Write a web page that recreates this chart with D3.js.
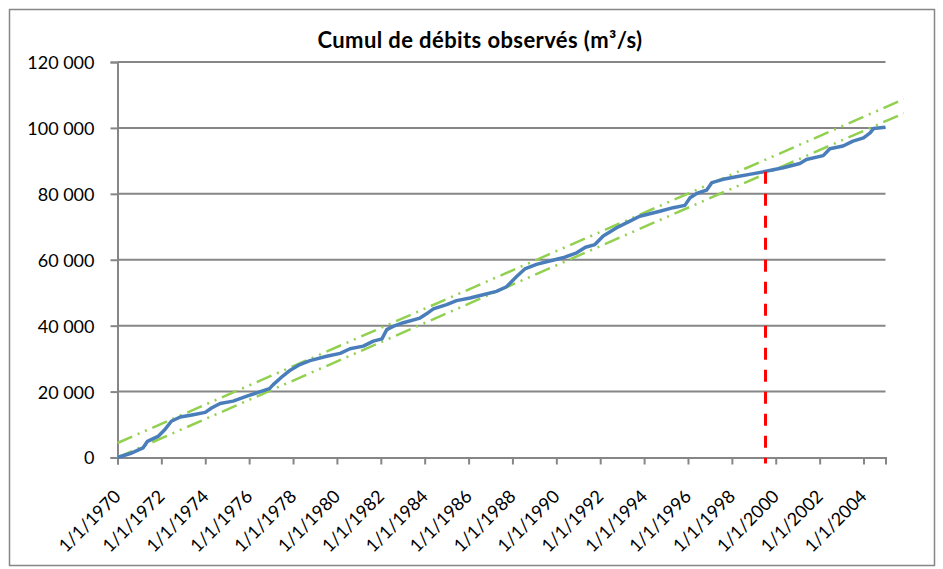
<!DOCTYPE html>
<html>
<head>
<meta charset="utf-8">
<script src="https://cdn.jsdelivr.net/npm/d3@7"></script>
<style>
  body { margin: 0; background: #fff; }
  text { font-family: Lato, "Noto Sans", sans-serif; fill: #000; }
</style>
</head>
<body>
<div id="chart"></div>
<script>
const dates = [
  '1970-01-01','1970-08-01','1971-03-01','1971-05-15','1971-11-15','1972-03-01','1972-06-15','1972-11-10',
  '1973-06-15','1974-01-01','1974-04-15','1974-09-05','1975-04-10','1975-11-25','1976-05-05','1976-12-05',
  '1977-02-05','1977-07-20','1977-11-15','1978-04-25','1978-10-10','1979-07-15','1980-02-25','1980-08-05',
  '1981-03-15','1981-08-30','1982-01-20','1982-04-10','1982-07-25','1983-01-10','1983-10-15','1984-02-01',
  '1984-05-25','1985-01-01','1985-06-15','1986-01-25','1986-09-01','1987-04-10','1987-09-25','1988-03-15',
  '1988-07-25','1989-02-05','1989-09-10','1990-04-20','1990-12-05','1991-05-01','1991-10-05','1992-02-20',
  '1992-10-01','1993-05-10','1993-10-20','1994-09-20','1995-05-01','1995-11-10','1996-02-05','1996-05-25',
  '1996-11-05','1997-02-01','1997-08-10','1998-03-15','1998-10-20','1999-08-10','2000-05-05','2001-02-05',
  '2001-05-25','2002-03-01','2002-06-20','2003-01-25','2003-07-10','2004-01-01','2004-04-20','2004-06-15',
  '2004-12-31'
]
const cumul = [
  0, 1200, 2900, 4900, 6500, 8500, 11000, 12300,
  13000, 13700, 15000, 16400, 17100, 18600, 19600, 20900,
  22100, 24800, 26500, 28200, 29400, 30700, 31600, 33000,
  33800, 35300, 36000, 38800, 39800, 40900, 42300, 43600,
  45100, 46400, 47600, 48400, 49400, 50400, 51800, 55000,
  57200, 58600, 59600, 60600, 62100, 63800, 64600, 67200,
  69700, 71700, 73200, 74700, 75800, 76500, 78800, 80100,
  81100, 83400, 84400, 85200, 85900, 86900, 87900, 89200,
  90400, 91600, 93700, 94500, 96000, 97000, 98500, 99800,
  100200
]

// the two parallel envelope lines (green dash-dot-dot)
const trendDates = ['1970-01-01', '2005-11-01']
const upperTrend = [4400, 108700]
const lowerTrend = [0, 104450]

// red marker at the break
const breakDate = '1999-07-15'
const breakValue = 86700

const xDomain = ['1970-01-01', '2005-01-01']
const yTicks = [0, 20000, 40000, 60000, 80000, 100000, 120000]
const title = 'Cumul de débits observés (m³/s)'

const W = 943, H = 569
const m = { top: 62, right: 57.5, bottom: 111.5, left: 117.5 }
const parse = d3.timeParse('%Y-%m-%d')

const svg = d3.select('#chart').append('svg')
  .attr('width', W).attr('height', H)

// chart frame
svg.append('rect')
  .attr('x', 9.5).attr('y', 9.5)
  .attr('width', 925).attr('height', 556)
  .attr('fill', 'none').attr('stroke', '#868686').attr('stroke-width', 1.5)

const x = d3.scaleTime()
  .domain(xDomain.map(parse))
  .range([m.left, W - m.right])
const y = d3.scaleLinear()
  .domain([0, 120000])
  .range([H - m.bottom, m.top])

const fr = d3.formatLocale({ decimal: ',', thousands: '\u00a0', grouping: [3], currency: ['', ''] })
const fmtY = fr.format(',')
const fmtX = d3.timeFormat('%-m/%-d/%Y')

// gridlines
svg.append('g')
  .selectAll('line')
  .data(yTicks.slice(1))
  .enter().append('line')
  .attr('x1', x.range()[0]).attr('x2', x.range()[1])
  .attr('y1', d => y(d)).attr('y2', d => y(d))
  .attr('stroke', '#868686').attr('stroke-width', 2)

// y axis
const gy = svg.append('g')
  .attr('transform', `translate(${m.left},0)`)
  .call(d3.axisLeft(y).tickValues(yTicks).tickFormat(fmtY).tickSizeOuter(0).tickSize(7).tickPadding(16))
gy.select('.domain').attr('stroke', '#868686').attr('stroke-width', 2)
gy.selectAll('.tick line').attr('stroke', '#868686').attr('stroke-width', 2)
gy.selectAll('.tick text').style('font-size', '18px').attr('dy', '0.36em')

// x axis
const gx = svg.append('g')
  .attr('transform', `translate(0,${y(0)})`)
  .call(d3.axisBottom(x).ticks(d3.timeYear.every(2)).tickFormat(fmtX).tickSizeOuter(0).tickSize(7))
gx.select('.domain').attr('stroke', '#868686').attr('stroke-width', 2)
gx.selectAll('.tick line').attr('stroke', '#868686').attr('stroke-width', 2)
gx.selectAll('.tick text')
  .style('font-size', '18px')
  .attr('text-anchor', 'end')
  .attr('dy', 0)
  .attr('y', 0)
  .attr('transform', 'translate(4,40) rotate(-45)')

// envelope lines
const trendLine = d3.line().x(d => x(d[0])).y(d => y(d[1]))
;[upperTrend, lowerTrend].forEach(vals => {
  svg.append('path')
    .datum(trendDates.map((d, i) => [parse(d), vals[i]]))
    .attr('d', trendLine)
    .attr('fill', 'none')
    .attr('stroke', '#92d050')
    .attr('stroke-width', 2.5)
    .attr('stroke-dasharray', '16,6,2,6,2,6')
})

// cumulative series
svg.append('path')
  .datum(dates.map((d, i) => [parse(d), cumul[i]]))
  .attr('d', d3.line().x(d => x(d[0])).y(d => y(d[1])))
  .attr('fill', 'none')
  .attr('stroke', '#4a7ebb')
  .attr('stroke-width', 3.5)
  .attr('stroke-linejoin', 'round')

// break marker
svg.append('line')
  .attr('x1', x(parse(breakDate))).attr('x2', x(parse(breakDate)))
  .attr('y1', y(breakValue)).attr('y2', y(0) + 6)
  .attr('stroke', '#ff0000').attr('stroke-width', 3)
  .attr('stroke-dasharray', '12,10')

svg.append('text')
  .attr('x', 480).attr('y', 48)
  .attr('text-anchor', 'middle')
  .style('font-size', '22px').style('font-weight', 'bold')
  .style('letter-spacing', '0.4px')
  .text(title)
</script>
</body>
</html>
